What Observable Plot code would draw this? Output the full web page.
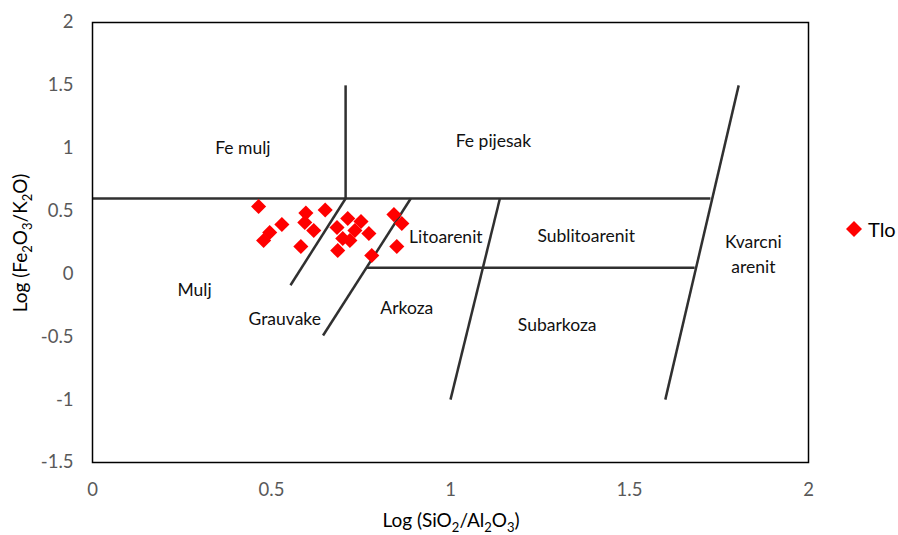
<!DOCTYPE html>
<html>
<head>
<meta charset="utf-8">
<script src="https://cdn.jsdelivr.net/npm/d3@7"></script>
<script src="https://cdn.jsdelivr.net/npm/@observablehq/plot@0.6"></script>
<style>
  html, body { margin: 0; padding: 0; background: #fff; }
  #chart { position: relative; width: 898px; height: 535px; }
  #legend { position: absolute; left: 846px; top: 217px; font-family: Lato, "Open Sans", sans-serif; font-size: 20px; color: #000; display: flex; align-items: center; }
  #legend svg { margin-right: 6px; }
</style>
</head>
<body>
<div id="chart">
  <div id="legend"><svg width="16" height="16"><path d="M8,0L16,8L8,16L0,8Z" fill="#ff0000"/></svg><span>Tlo</span></div>
</div>
<script>
// Series "Tlo"
const seriesName = "Tlo";
const xValues = [0.464, 0.478, 0.495, 0.529, 0.596, 0.650, 0.593, 0.618, 0.582, 0.683, 0.713, 0.750, 0.772, 0.733, 0.699, 0.685, 0.780, 0.842, 0.864, 0.850, 0.719];
const yValues = [0.536, 0.266, 0.329, 0.393, 0.484, 0.508, 0.409, 0.345, 0.218, 0.369, 0.441, 0.417, 0.321, 0.345, 0.282, 0.186, 0.146, 0.472, 0.401, 0.218, 0.266];

// Classification boundaries
const bx1 = [0.000, 0.707, 0.553, 0.644, 1.000, 0.767, 1.600];
const by1 = [0.600, 0.600, -0.090, -0.490, -1.000, 0.050, -1.000];
const bx2 = [1.726, 0.707, 0.707, 0.889, 1.138, 1.682, 1.805];
const by2 = [0.600, 1.500, 0.600, 0.600, 0.600, 0.050, 1.500];

// Field labels
const fieldNames = ["Fe mulj", "Fe pijesak", "Mulj", "Grauvake", "Arkoza", "Litoarenit", "Sublitoarenit", "Subarkoza", "Kvarcni\narenit"];
const fieldX = [0.42, 1.12, 0.285, 0.537, 0.878, 0.987, 1.379, 1.298, 1.846];
const fieldY = [1.02, 1.075, -0.11, -0.34, -0.26, 0.31, 0.32, -0.395, 0.17];

const xTicks = [0, 0.5, 1, 1.5, 2];
const yTicks = [-1.5, -1, -0.5, 0, 0.5, 1, 1.5, 2];

const points = xValues.map((x, i) => ({x, y: yValues[i]}));
const bounds = bx1.map((x, i) => ({x1: x, y1: by1[i], x2: bx2[i], y2: by2[i]}));
const fields = fieldNames.map((t, i) => ({t, x: fieldX[i], y: fieldY[i]}));

const plot = Plot.plot({
  width: 898,
  height: 535,
  marginLeft: 92,
  marginRight: 90,
  marginTop: 22,
  marginBottom: 73,
  style: {fontFamily: "Lato, 'Open Sans', sans-serif", background: "#fff"},
  x: {domain: [0, 2], ticks: xTicks, tickFormat: d => String(d), label: null},
  y: {domain: [-1.5, 2], ticks: yTicks, tickFormat: d => String(d), label: null},
  marks: [
    Plot.axisX({ticks: xTicks, tickSize: 0, tickPadding: 20, fontSize: 18.5, color: "#595959", label: null, tickFormat: d => String(d)}),
    Plot.axisY({ticks: yTicks, tickSize: 0, tickPadding: 19, fontSize: 18.5, color: "#595959", label: null, tickFormat: d => String(d)}),
    Plot.link(bounds, {x1: "x1", y1: "y1", x2: "x2", y2: "y2", stroke: "#303030", strokeWidth: 2.5}),
    Plot.text(fields, {x: "x", y: "y", text: "t", fontSize: 17.5, fill: "#111", lineHeight: 1.4}),
    Plot.dot(points, {x: "x", y: "y", symbol: "diamond2", r: 6.8, fill: "#ff0000", stroke: "none"}),
    Plot.frame({stroke: "#000", strokeWidth: 1.5})
  ]
});

const svg = d3.select(plot);
function appendParts(sel, parts) {
  let prevSub = false;
  parts.forEach(([txt, isSub]) => {
    const ts = sel.append("tspan").text(txt);
    if (isSub) { ts.attr("font-size", 13); ts.attr("dy", prevSub ? 0 : 5); }
    else { ts.attr("dy", prevSub ? -5 : 0); }
    prevSub = isSub;
  });
}
const xt = svg.append("text")
  .attr("x", 451).attr("y", 527)
  .attr("text-anchor", "middle")
  .attr("font-size", 19).attr("fill", "#000")
  .attr("font-family", "Lato, 'Open Sans', sans-serif");
appendParts(xt, [["Log (SiO", false], ["2", true], ["/Al", false], ["2", true], ["O", false], ["3", true], [")", false]]);

const yt = svg.append("text")
  .attr("transform", "translate(27,243) rotate(-90)")
  .attr("text-anchor", "middle")
  .attr("font-size", 19).attr("fill", "#000")
  .attr("font-family", "Lato, 'Open Sans', sans-serif");
appendParts(yt, [["Log (Fe", false], ["2", true], ["O", false], ["3", true], ["/K", false], ["2", true], ["O)", false]]);

document.getElementById("chart").prepend(plot);
plot.style.position = "absolute";
plot.style.left = "0";
plot.style.top = "0";
</script>
</body>
</html>
